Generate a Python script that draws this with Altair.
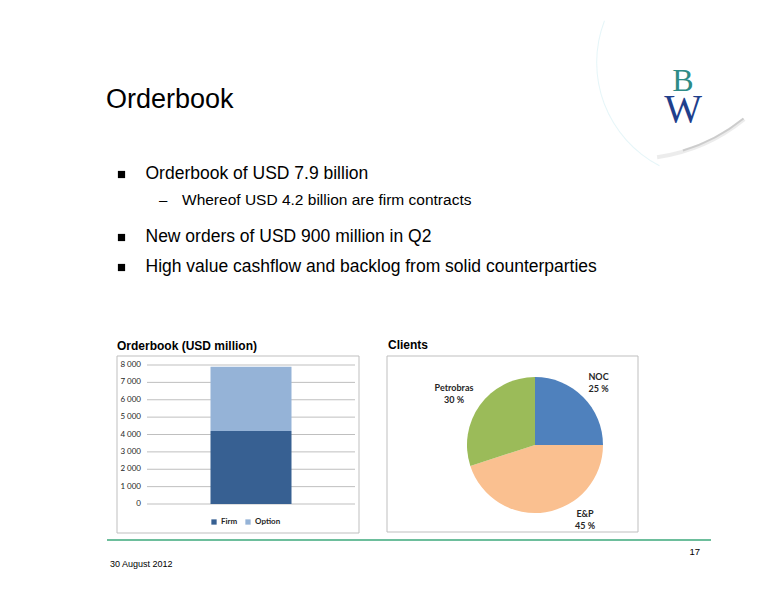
import altair as alt
import pandas as pd

# ---------------- data ----------------
TITLE = "Orderbook"
BULLETS = [
    "Orderbook of USD 7.9 billion",
    "New orders of USD 900 million in Q2",
    "High value cashflow and backlog from solid counterparties",
]
SUB_BULLET = "Whereof USD 4.2 billion are firm contracts"

BAR_TITLE = "Orderbook (USD million)"
BAR_CATEGORY = ["Orderbook", "Orderbook"]
BAR_SERIES = ["Firm", "Option"]
BAR_VALUES = [4200, 3700]
BAR_COLORS = ["#376092", "#95B3D7"]
Y_TICKS = [0, 1000, 2000, 3000, 4000, 5000, 6000, 7000, 8000]

PIE_TITLE = "Clients"
PIE_LABELS = ["NOC", "E&P", "Petrobras"]
PIE_SHARES = [25, 45, 30]
PIE_COLORS = ["#4F81BD", "#FAC090", "#9BBB59"]

FOOTER_DATE = "30 August 2012"
PAGE_NO = "17"

# ---------------- helpers ----------------
ONE = pd.DataFrame({"_": [0]})
OFF = 8  # page margin


def px(v):
    return alt.value(v - OFF)


def text(x, y, s, size, weight="normal", font="Liberation Sans", color="#000000",
         align="left", baseline="alphabetic", line_height=None):
    kw = dict(align=align, baseline=baseline, font=font, fontSize=size,
              fontWeight=weight, color=color)
    if line_height:
        kw["lineHeight"] = line_height
    return alt.Chart(ONE).mark_text(**kw).encode(x=px(x), y=px(y), text=alt.value(s))


def box(x1, y1, x2, y2, stroke="#BFBFBF"):
    return alt.Chart(ONE).mark_rect(fill="white", stroke=stroke, strokeWidth=1).encode(
        x=px(x1), x2=px(x2), y=px(y1), y2=px(y2))


def deco_arc(cx, cy, r_in, r_out, t0, t1, color, opacity):
    return alt.Chart(ONE).mark_arc(color=color, opacity=opacity).encode(
        x=px(cx), y=px(cy), theta=alt.value(t0), theta2=alt.value(t1),
        radius=alt.value(r_out), radius2=alt.value(r_in))


layers = []

# ---------------- page-curl decoration behind logo ----------------
layers.append(deco_arc(632, -19, 176, 180, 2.46, 3.0, "#d9d9d9", 0.5))
layers.append(deco_arc(632, -19, 176, 178, 2.46, 2.85, "#a6a6a6", 0.45))
layers.append(deco_arc(713, 62.5, 115.8, 116.8, 3.62, 5.08, "#d3eff3", 0.6))

# ---------------- slide text ----------------
layers.append(text(106, 108, TITLE, 27))
bullet_y = [179, 242, 272]
for s, yb in zip(BULLETS, bullet_y):
    layers.append(alt.Chart(ONE).mark_square(size=52, color="#000000", opacity=1).encode(
        x=px(121.5), y=px(yb - 4.5)))
    layers.append(text(145.5, yb, s, 17.5))
layers.append(text(159, 205, "\u2013", 15))
layers.append(text(182, 205, SUB_BULLET, 15.5))

# ---------------- chart boxes ----------------
layers.append(box(117, 356, 359, 533))
layers.append(box(387, 356, 638, 532))
layers.append(text(117, 350, BAR_TITLE, 12, weight="bold"))
layers.append(text(388, 349, PIE_TITLE, 12, weight="bold"))

# ---------------- bar chart ----------------
bar_df = pd.DataFrame({"cat": BAR_CATEGORY, "series": BAR_SERIES, "value": BAR_VALUES,
                       "idx": list(range(len(BAR_SERIES)))})
tick_df = pd.DataFrame({"v": Y_TICKS})

yscale = alt.Scale(domain=[0, 8000], range=[504 - OFF, 365 - OFF], nice=False, zero=True)

grid = alt.Chart(tick_df).mark_rule(color="#BFBFBF", strokeWidth=1).encode(
    y=alt.Y("v:Q", scale=yscale, axis=None), x=px(147), x2=px(355))

ticklabels = alt.Chart(tick_df).transform_calculate(
    lab="replace(format(datum.v, ','), ',', ' ')"
).mark_text(align="right", baseline="middle", font="Lato", fontSize=8, color="#262626").encode(
    y=alt.Y("v:Q", scale=yscale, axis=None), x=px(141), text="lab:N")

bars = alt.Chart(bar_df).mark_bar(size=81).encode(
    x=alt.X("cat:N", scale=alt.Scale(range=[147 - OFF, 355 - OFF]), axis=None),
    y=alt.Y("value:Q", stack="zero", scale=yscale, axis=None),
    color=alt.Color("series:N", scale=alt.Scale(domain=BAR_SERIES, range=BAR_COLORS),
                    legend=alt.Legend(orient="none", legendX=210 - OFF, legendY=518 - OFF,
                                      direction="horizontal", title=None, symbolType="square",
                                      symbolSize=28, symbolStrokeWidth=0, labelFont="Lato",
                                      labelFontSize=8, labelFontWeight="bold",
                                      labelColor="#262626", columnPadding=6, padding=0,
                                      labelOffset=3)),
    order=alt.Order("idx:Q"),
)

bar_group = alt.layer(grid, bars, ticklabels)
layers.append(bar_group)

# ---------------- pie chart ----------------
pie_df = pd.DataFrame({"client": PIE_LABELS, "share": PIE_SHARES,
                       "idx": list(range(len(PIE_LABELS)))})
pie = alt.Chart(pie_df).mark_arc(outerRadius=68).encode(
    theta=alt.Theta("share:Q", stack=True),
    color=alt.Color("client:N", scale=alt.Scale(domain=PIE_LABELS, range=PIE_COLORS), legend=None),
    order=alt.Order("idx:Q"),
    x=px(535), y=px(445),
)
layers.append(pie)

label_pos = {"NOC": (598.5, 377), "E&P": (585, 514), "Petrobras": (454, 388)}
for name, share in zip(PIE_LABELS, PIE_SHARES):
    lx, ly = label_pos[name]
    layers.append(text(lx, ly, [name, f"{share} %"], 9, weight="bold", font="Lato",
                       color="#262626", align="center", baseline="middle", line_height=12))

# ---------------- footer ----------------
layers.append(alt.Chart(ONE).mark_rule(color="#6DBE9C", strokeWidth=2).encode(
    x=px(107), x2=px(711), y=px(540)))
layers.append(text(110, 567, FOOTER_DATE, 9))
layers.append(text(700, 555, PAGE_NO, 9.5, align="right"))

# ---------------- logo ----------------
layers.append(text(683, 91, "B", 32, font="Liberation Serif", color="#2E8B86", align="center"))
layers.append(text(683, 122, "W", 40, font="Liberation Serif", color="#1F3F8C", align="center"))

chart = alt.layer(*layers).resolve_scale(
    x="independent", y="independent", color="independent", theta="independent"
).properties(
    width=760, height=584, autosize=alt.AutoSizeParams(type="none"), padding=0
).configure_view(stroke=None)

chart.save("out.html", embed_options={"renderer": "svg", "actions": False})
